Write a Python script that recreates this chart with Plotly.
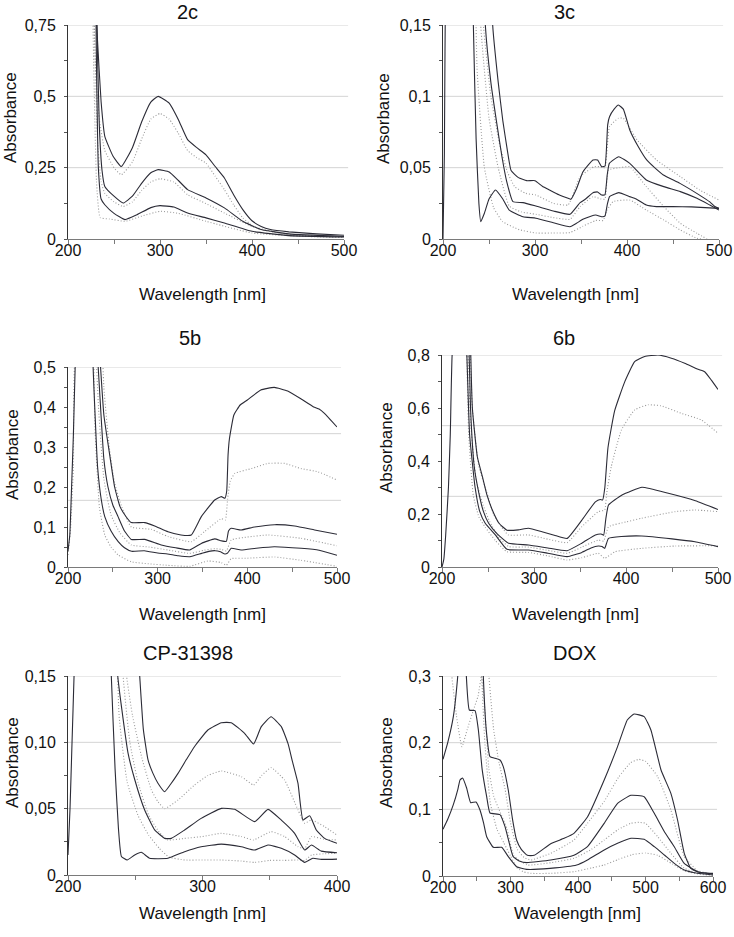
import plotly.graph_objects as go

W, H = 734, 937

# ------------------------------------------------------------------ data
# ---- 2c ----
C2_S1_X = [226, 229, 232, 236, 240, 249, 258, 270, 280, 290, 298, 310, 320, 330, 340, 350, 360, 370, 380, 390, 400, 410, 420, 440, 470, 500]
C2_S1_Y = [1.2, 0.95, 0.70, 0.48, 0.36, 0.29, 0.254, 0.32, 0.41, 0.48, 0.50, 0.476, 0.418, 0.348, 0.32, 0.295, 0.254, 0.214, 0.155, 0.103, 0.064, 0.044, 0.033, 0.025, 0.018, 0.013]
C2_D1_X = [224, 227, 230, 234, 240, 250, 258, 270, 280, 290, 300, 310, 320, 330, 340, 350, 360, 370, 380, 390, 400, 410, 440, 500]
C2_D1_Y = [1.2, 0.9, 0.6, 0.42, 0.31, 0.25, 0.225, 0.27, 0.35, 0.42, 0.44, 0.42, 0.37, 0.31, 0.285, 0.266, 0.22, 0.173, 0.12, 0.074, 0.048, 0.033, 0.015, 0.007]
C2_S2_X = [228, 231, 234, 237, 240, 250, 260, 270, 280, 290, 298, 310, 320, 330, 350, 370, 390, 410, 440, 500]
C2_S2_Y = [1.2, 0.8, 0.4, 0.24, 0.184, 0.15, 0.126, 0.15, 0.195, 0.232, 0.243, 0.235, 0.205, 0.173, 0.144, 0.109, 0.062, 0.033, 0.018, 0.009]
C2_D2_X = [226, 229, 232, 236, 240, 250, 260, 270, 280, 290, 300, 315, 330, 350, 370, 400, 440, 500]
C2_D2_Y = [1.2, 0.7, 0.35, 0.2, 0.16, 0.13, 0.114, 0.13, 0.17, 0.2, 0.211, 0.2, 0.155, 0.124, 0.091, 0.044, 0.015, 0.007]
C2_S3_X = [229, 231, 233, 236, 240, 250, 262, 275, 290, 300, 315, 330, 350, 370, 400, 440, 500]
C2_S3_Y = [1.2, 0.6, 0.25, 0.14, 0.12, 0.09, 0.068, 0.085, 0.11, 0.117, 0.112, 0.091, 0.074, 0.056, 0.027, 0.012, 0.007]
C2_D3_X = [225, 228, 231, 235, 245, 262, 280, 300, 320, 350, 400, 450, 500]
C2_D3_Y = [1.2, 0.6, 0.2, 0.075, 0.07, 0.062, 0.08, 0.097, 0.09, 0.062, 0.021, 0.01, 0.005]

# ---- 3c ----
C3_S1_X = [250, 254, 260, 265, 270, 274, 282, 291, 300, 308, 316, 326, 336, 339, 345, 352, 358, 363, 368, 372.5, 376, 379, 381, 386, 390.6, 396, 403, 412, 421.4, 430, 439.5, 457.6, 475.8, 490, 495, 500]
C3_S1_Y = [0.3, 0.15, 0.11, 0.083, 0.062, 0.048, 0.043, 0.0409, 0.0409, 0.037, 0.0343, 0.031, 0.0285, 0.0278, 0.035, 0.047, 0.052, 0.0554, 0.0554, 0.0507, 0.051, 0.08, 0.0857, 0.091, 0.0939, 0.091, 0.0764, 0.065, 0.0554, 0.05, 0.0449, 0.039, 0.032, 0.026, 0.023, 0.0215]
C3_D1_X = [238, 244, 252, 262, 270, 278, 290, 301, 320, 336, 349, 360, 364, 370, 376, 381, 390.6, 396, 411, 432, 458, 479, 500]
C3_D1_Y = [0.3, 0.15, 0.1, 0.065, 0.047, 0.0366, 0.032, 0.0308, 0.025, 0.0239, 0.0437, 0.049, 0.0507, 0.0507, 0.05, 0.0787, 0.0846, 0.0846, 0.0694, 0.0554, 0.0437, 0.0343, 0.0273]
C3_S2_X = [240, 246, 252, 258, 264, 269, 276, 287, 301, 320, 338, 349, 355, 363, 368, 372.5, 376, 378.5, 380.8, 391, 403, 421, 440, 458, 476, 490, 500]
C3_S2_Y = [0.3, 0.15, 0.11, 0.083, 0.058, 0.041, 0.0262, 0.0255, 0.0231, 0.0196, 0.0173, 0.0255, 0.028, 0.0325, 0.033, 0.0308, 0.031, 0.045, 0.053, 0.0577, 0.053, 0.0414, 0.0367, 0.0332, 0.0285, 0.0238, 0.0203]
C3_D2_X = [236, 241, 250, 260, 272, 285, 301, 320, 338, 349, 363, 372, 376, 380, 392, 403, 421, 440, 458, 476, 487]
C3_D2_Y = [0.3, 0.15, 0.085, 0.05, 0.0231, 0.019, 0.0173, 0.015, 0.0138, 0.0227, 0.0297, 0.028, 0.028, 0.0484, 0.05, 0.0507, 0.0367, 0.0227, 0.011, 0.004, 0.0]
C3_S3_X = [200, 201.5, 203, 215, 230, 233, 236, 239, 241, 245, 250, 257, 265, 272, 287, 301, 320, 338, 345, 352, 360, 366, 372.5, 376, 378.5, 381, 385, 391, 403, 410, 421, 432, 450, 470, 500]
C3_S3_Y = [0, 0.06, 0.2, 0.5, 0.3, 0.15, 0.07, 0.025, 0.0121, 0.018, 0.028, 0.0343, 0.028, 0.0203, 0.0156, 0.0146, 0.0114, 0.0086, 0.011, 0.0138, 0.0158, 0.0168, 0.0156, 0.016, 0.024, 0.0297, 0.031, 0.0325, 0.0297, 0.028, 0.0238, 0.0227, 0.0227, 0.0225, 0.0215]
C3_D3_X = [233, 237, 245, 255, 265, 283, 301, 320, 338, 352, 366, 374, 378, 385, 403, 421, 440, 458, 476, 482]
C3_D3_Y = [0.3, 0.12, 0.05, 0.022, 0.0121, 0.0065, 0.0042, 0.0042, 0.0045, 0.0089, 0.013, 0.013, 0.02, 0.0262, 0.0273, 0.0203, 0.0133, 0.0063, 0.0005, 0.0]

# ---- 5b ----
C5_S1_X = [233, 235, 240, 246.8, 252, 258, 265, 270.6, 285.5, 296.7, 311.5, 326, 337.5, 348.7, 363.6, 371, 375, 377, 378.5, 380, 385, 392, 400, 415, 430, 445, 460, 474, 480, 486, 500]
C5_S1_Y = [0.7, 0.55, 0.38, 0.276, 0.2, 0.151, 0.125, 0.111, 0.111, 0.1025, 0.088, 0.08, 0.08, 0.126, 0.1675, 0.176, 0.172, 0.19, 0.28, 0.32, 0.38, 0.405, 0.4175, 0.4425, 0.449, 0.44, 0.42, 0.4, 0.395, 0.384, 0.35]
C5_D1_X = [236, 240, 246, 252, 260, 270.6, 293, 311.5, 337.5, 352, 371, 375.5, 378, 381, 386, 404.5, 423, 441.6, 460, 478.8, 500]
C5_D1_Y = [0.7, 0.45, 0.3, 0.21, 0.15, 0.1, 0.094, 0.076, 0.0633, 0.088, 0.121, 0.1175, 0.17, 0.215, 0.234, 0.246, 0.259, 0.259, 0.246, 0.238, 0.2175]
C5_S2_X = [231, 235, 240, 244.6, 250, 255.8, 263, 270.6, 285.5, 304, 320, 335.7, 348.7, 363.6, 371, 376.6, 379, 382, 393, 408, 430.5, 452.8, 475, 500]
C5_S2_Y = [0.6, 0.45, 0.27, 0.2, 0.155, 0.126, 0.09, 0.069, 0.069, 0.055, 0.048, 0.0425, 0.059, 0.0702, 0.0655, 0.064, 0.09, 0.0967, 0.0925, 0.1, 0.1058, 0.1025, 0.0925, 0.0817]
C5_D2_X = [230, 234, 240, 248, 258, 270.6, 290, 311.5, 335.7, 352, 363.6, 371, 376.6, 382, 400, 423, 460, 500]
C5_D2_Y = [0.6, 0.4, 0.22, 0.13, 0.085, 0.055, 0.05, 0.0425, 0.034, 0.042, 0.046, 0.044, 0.04, 0.0675, 0.075, 0.08, 0.0717, 0.053]
C5_S3_X = [200, 202, 204, 206, 208, 215, 225, 228, 233, 237, 241, 248, 256, 263, 271, 285, 300, 311, 323, 336, 349, 357, 364, 370, 375, 378, 382, 393, 410, 430, 460, 480, 500]
C5_S3_Y = [0.04, 0.08, 0.2, 0.33, 0.5, 0.9, 0.8, 0.5, 0.25, 0.17, 0.126, 0.09, 0.0633, 0.048, 0.0392, 0.0408, 0.035, 0.0325, 0.028, 0.0258, 0.034, 0.039, 0.0408, 0.038, 0.0325, 0.035, 0.0467, 0.0425, 0.047, 0.0508, 0.0467, 0.042, 0.0292]
C5_D3_X = [200, 203, 206, 209, 226, 230, 235, 241, 248, 256, 270.6, 290, 311.5, 335.7, 356, 371, 376.6, 382, 400, 430.5, 460, 500]
C5_D3_Y = [0.03, 0.1, 0.25, 0.55, 0.6, 0.35, 0.15, 0.08, 0.05, 0.03, 0.013, 0.008, 0.0042, 0.0017, 0.015, 0.011, 0.0042, 0.0208, 0.022, 0.025, 0.0167, 0.0017]

# ---- 6b ----
C6_S1_X = [230, 233, 238.4, 244, 249, 254, 262, 270.6, 283, 294, 308.7, 322, 336, 352, 366.7, 372, 374.6, 377, 380.4, 387.7, 398.6, 409.4, 420.3, 434.8, 449.3, 463.8, 478.3, 485.5, 492.8, 500]
C6_S1_Y = [1.0, 0.6, 0.416, 0.34, 0.27, 0.221, 0.165, 0.139, 0.14, 0.146, 0.133, 0.12, 0.108, 0.177, 0.246, 0.255, 0.253, 0.3, 0.45, 0.59, 0.6987, 0.775, 0.794, 0.8, 0.788, 0.769, 0.746, 0.737, 0.705, 0.67]
C6_D1_X = [229, 233, 240, 248, 256, 265, 272, 294, 315, 336, 352, 370, 376.8, 379, 384, 395, 409.4, 423.9, 438.4, 460, 481.9, 500]
C6_D1_Y = [1.0, 0.6, 0.38, 0.29, 0.2, 0.15, 0.121, 0.121, 0.105, 0.092, 0.152, 0.209, 0.215, 0.278, 0.379, 0.517, 0.593, 0.612, 0.608, 0.58, 0.555, 0.505]
C6_S2_X = [228, 231, 235, 240, 245, 250.7, 260, 272.5, 294, 315, 336, 352, 366.7, 373, 375.7, 378, 381, 395.7, 417.4, 446, 475.4, 500]
C6_S2_Y = [1.0, 0.6, 0.38, 0.28, 0.21, 0.165, 0.125, 0.0893, 0.083, 0.072, 0.0616, 0.09, 0.121, 0.1245, 0.12, 0.18, 0.234, 0.272, 0.301, 0.278, 0.25, 0.217]
C6_D2_X = [227, 231, 237, 244, 252, 262, 272.5, 294, 315, 336, 352, 370, 375.7, 381, 400, 417, 453.6, 475, 500]
C6_D2_Y = [1.0, 0.55, 0.33, 0.24, 0.17, 0.11, 0.077, 0.075, 0.063, 0.0516, 0.075, 0.1016, 0.098, 0.152, 0.17, 0.184, 0.209, 0.215, 0.209]
C6_S3_X = [200, 202, 204, 207, 209, 211, 220, 226, 230, 236, 241, 247, 258, 270.6, 294, 315, 336, 352, 362, 370, 374, 376.8, 381, 395, 417, 450, 475, 500]
C6_S3_Y = [0, 0.03, 0.12, 0.3, 0.5, 0.8, 1.2, 0.9, 0.5, 0.3, 0.21, 0.165, 0.121, 0.0666, 0.064, 0.052, 0.039, 0.055, 0.072, 0.0792, 0.077, 0.0704, 0.108, 0.115, 0.117, 0.106, 0.095, 0.0767]
C6_D3_X = [226, 229, 234, 240, 247, 258, 270.6, 294, 315, 336, 352, 370, 376.8, 388, 417, 453.6, 500]
C6_D3_Y = [1.0, 0.5, 0.27, 0.19, 0.15, 0.1, 0.0577, 0.055, 0.042, 0.0264, 0.035, 0.0516, 0.0327, 0.0577, 0.0704, 0.0792, 0.08]

# ---- CP-31398 ----
C7_S1_X = [250, 253, 256, 259.5, 263, 267, 271.9, 276, 281.8, 288, 294, 304, 314, 321.4, 331.3, 338, 343.7, 351, 358.6, 363.6, 367, 371, 374.7, 379.7, 384.6, 390.8, 400]
C7_S1_Y = [0.2, 0.155, 0.11, 0.0867, 0.077, 0.069, 0.0628, 0.068, 0.0766, 0.087, 0.0967, 0.1093, 0.1148, 0.1148, 0.1068, 0.0987, 0.1118, 0.1193, 0.1118, 0.099, 0.085, 0.069, 0.0415, 0.0447, 0.0339, 0.0276, 0.0239]
C7_D1_X = [240, 243, 248, 255, 262, 267, 271.9, 281.8, 294, 304, 314, 328.9, 338, 344, 351, 361, 371, 376, 381, 390.8, 400]
C7_D1_Y = [0.3, 0.155, 0.12, 0.088, 0.0641, 0.055, 0.05, 0.0565, 0.0678, 0.075, 0.0784, 0.0741, 0.0678, 0.075, 0.0809, 0.0716, 0.049, 0.039, 0.0415, 0.0364, 0.0301]
C7_S2_X = [234, 237, 240, 244.6, 249.6, 257, 264.4, 271.9, 276.8, 286.7, 299, 314, 324, 338.8, 348.7, 358.6, 368.5, 376, 381, 388.3, 400]
C7_S2_Y = [0.3, 0.15, 0.125, 0.092, 0.072, 0.049, 0.034, 0.0276, 0.0276, 0.0339, 0.0427, 0.0502, 0.0495, 0.0402, 0.0495, 0.0414, 0.0314, 0.0188, 0.0226, 0.018, 0.0168]
C7_D2_X = [237, 241, 246, 252, 260, 268, 274, 286.7, 300, 314, 328.9, 338, 351, 361, 371, 376, 381, 390, 400]
C7_D2_Y = [0.3, 0.15, 0.1, 0.07, 0.045, 0.032, 0.0264, 0.0276, 0.029, 0.0314, 0.029, 0.0264, 0.0327, 0.029, 0.0213, 0.02, 0.029, 0.027, 0.0264]
C7_S3_X = [200, 201.5, 203, 204.5, 207, 215, 228, 232.2, 235, 237.5, 239.7, 244, 249.6, 254.5, 260.7, 274.3, 286.7, 299, 314, 328.9, 338.8, 348.7, 358.6, 368.5, 376, 382, 388.3, 400]
C7_S3_Y = [0.015, 0.05, 0.1, 0.15, 0.25, 0.5, 0.3, 0.15, 0.08, 0.035, 0.014, 0.0113, 0.0151, 0.0171, 0.0126, 0.0126, 0.0176, 0.0213, 0.0233, 0.0213, 0.0188, 0.0226, 0.0201, 0.0151, 0.0095, 0.0126, 0.0118, 0.012]
C7_D3_X = [234, 238, 244, 252, 260, 268, 275, 287, 300, 314, 329, 339, 350, 360, 371, 376, 381, 390, 400]
C7_D3_Y = [0.3, 0.12, 0.07, 0.045, 0.03, 0.02, 0.0135, 0.0113, 0.0113, 0.0113, 0.0105, 0.0095, 0.011, 0.011, 0.0113, 0.011, 0.015, 0.016, 0.0163]

# ---- DOX ----
C8_S1_X = [255, 259.7, 264, 269.6, 277, 284.4, 289.3, 296.7, 303, 309, 316, 325, 335, 359.6, 379.4, 394, 414, 438.8, 458.6, 473, 483, 498, 508, 523, 537.6, 547.5, 557.4, 567, 577, 594.6, 600]
C8_S1_Y = [0.45, 0.3, 0.22, 0.179, 0.1765, 0.174, 0.164, 0.129, 0.085, 0.054, 0.04, 0.031, 0.031, 0.0485, 0.0565, 0.064, 0.0885, 0.144, 0.194, 0.234, 0.243, 0.239, 0.219, 0.159, 0.124, 0.084, 0.034, 0.0115, 0.0065, 0.004, 0.004]
C8_D1_X = [262, 268, 275, 283, 292, 300, 310, 320, 330, 359.6, 394, 414, 438.8, 460, 478, 490, 500, 518, 537.6, 557, 577, 600]
C8_D1_Y = [0.4, 0.3, 0.22, 0.17, 0.13, 0.08, 0.04, 0.028, 0.024, 0.034, 0.054, 0.079, 0.112, 0.148, 0.17, 0.175, 0.172, 0.149, 0.099, 0.03, 0.008, 0.003]
C8_S2_X = [200, 207, 215.3, 222.7, 228, 234, 239, 247.4, 252.4, 258, 264.7, 269.6, 284.4, 291.9, 298, 304, 314, 323.9, 359.6, 394, 414, 438.8, 458.6, 478.5, 498, 513, 528, 542.6, 557.4, 577, 600]
C8_S2_Y = [0.175, 0.2, 0.239, 0.31, 0.4, 0.31, 0.249, 0.248, 0.219, 0.16, 0.119, 0.0945, 0.092, 0.074, 0.05, 0.029, 0.022, 0.02, 0.024, 0.031, 0.044, 0.079, 0.109, 0.121, 0.119, 0.094, 0.0665, 0.044, 0.0189, 0.0065, 0.003]
C8_D2_X = [200, 206, 213, 220, 228, 236, 245, 252, 257, 262, 268, 275, 285, 295, 305, 325, 360, 394, 420, 438.8, 460, 478, 490, 500, 518, 537.6, 557, 577, 600]
C8_D2_Y = [0.45, 0.38, 0.3, 0.24, 0.194, 0.22, 0.249, 0.27, 0.3, 0.25, 0.16, 0.12, 0.095, 0.07, 0.03, 0.0165, 0.02, 0.0265, 0.04, 0.054, 0.07, 0.079, 0.0805, 0.079, 0.059, 0.034, 0.012, 0.004, 0.002]
C8_S3_X = [200, 207, 215.3, 222, 225.2, 229, 235, 241, 248.9, 254.8, 260, 264.7, 274.6, 286.9, 296.8, 309, 323.9, 358.5, 398, 414, 438.8, 458.6, 478.5, 498, 513, 528, 542.6, 557.4, 577, 600]
C8_S3_Y = [0.07, 0.085, 0.107, 0.13, 0.144, 0.147, 0.132, 0.11, 0.111, 0.099, 0.08, 0.059, 0.043, 0.043, 0.029, 0.014, 0.0099, 0.0114, 0.0164, 0.024, 0.039, 0.049, 0.0565, 0.055, 0.044, 0.0315, 0.019, 0.009, 0.004, 0.0015]
C8_D3_X = [255, 262, 270, 280, 290, 300, 310, 320, 330, 360, 394, 420, 438.8, 460, 480, 500, 518, 540, 557, 577, 600]
C8_D3_Y = [0.35, 0.2, 0.11, 0.07, 0.05, 0.03, 0.012, 0.006, 0.004, 0.004, 0.0065, 0.012, 0.0165, 0.025, 0.032, 0.0345, 0.031, 0.018, 0.008, 0.003, 0.001]

# ---- labels / ticks ----
PANEL_TITLES = ["2c", "3c", "5b", "6b", "CP-31398", "DOX"]
X_LABEL = "Wavelength [nm]"
Y_LABEL = "Absorbance"
X_RANGES = [[200, 500], [200, 500], [200, 500], [200, 500], [200, 400], [200, 600]]
X_TICKS = [[200, 300, 400, 500], [200, 300, 400, 500], [200, 300, 400, 500],
           [200, 300, 400, 500], [200, 300, 400], [200, 300, 400, 500, 600]]
Y_MAX = [0.75, 0.15, 0.5, 0.8, 0.15, 0.3]
Y_TICKVALS = [[0, 0.25, 0.5, 0.75], [0, 0.05, 0.1, 0.15], [0, 0.1, 0.2, 0.3, 0.4, 0.5],
              [0, 0.2, 0.4, 0.6, 0.8], [0, 0.05, 0.10, 0.15], [0, 0.1, 0.2, 0.3]]
Y_TICKTEXT = [["0", "0,25", "0,5", "0,75"], ["0", "0,05", "0,1", "0,15"],
              ["0", "0,1", "0,2", "0,3", "0,4", "0,5"], ["0", "0,2", "0,4", "0,6", "0,8"],
              ["0", "0,05", "0,10", "0,15"], ["0", "0,1", "0,2", "0,3"]]

PANEL_CURVES = [
    [(C2_D1_X, C2_D1_Y, "dot"), (C2_D2_X, C2_D2_Y, "dot"), (C2_D3_X, C2_D3_Y, "dot"),
     (C2_S1_X, C2_S1_Y, "solid"), (C2_S2_X, C2_S2_Y, "solid"), (C2_S3_X, C2_S3_Y, "solid")],
    [(C3_D1_X, C3_D1_Y, "dot"), (C3_D2_X, C3_D2_Y, "dot"), (C3_D3_X, C3_D3_Y, "dot"),
     (C3_S1_X, C3_S1_Y, "solid"), (C3_S2_X, C3_S2_Y, "solid"), (C3_S3_X, C3_S3_Y, "solid")],
    [(C5_D1_X, C5_D1_Y, "dot"), (C5_D2_X, C5_D2_Y, "dot"), (C5_D3_X, C5_D3_Y, "dot"),
     (C5_S1_X, C5_S1_Y, "solid"), (C5_S2_X, C5_S2_Y, "solid"), (C5_S3_X, C5_S3_Y, "solid")],
    [(C6_D1_X, C6_D1_Y, "dot"), (C6_D2_X, C6_D2_Y, "dot"), (C6_D3_X, C6_D3_Y, "dot"),
     (C6_S1_X, C6_S1_Y, "solid"), (C6_S2_X, C6_S2_Y, "solid"), (C6_S3_X, C6_S3_Y, "solid")],
    [(C7_D1_X, C7_D1_Y, "dot"), (C7_D2_X, C7_D2_Y, "dot"), (C7_D3_X, C7_D3_Y, "dot"),
     (C7_S1_X, C7_S1_Y, "solid"), (C7_S2_X, C7_S2_Y, "solid"), (C7_S3_X, C7_S3_Y, "solid")],
    [(C8_D1_X, C8_D1_Y, "dot"), (C8_D2_X, C8_D2_Y, "dot"), (C8_D3_X, C8_D3_Y, "dot"),
     (C8_S1_X, C8_S1_Y, "solid"), (C8_S2_X, C8_S2_Y, "solid"), (C8_S3_X, C8_S3_Y, "solid")],
]

# ------------------------------------------------------------------ layout geometry (pixels)
BOXES = [(68, 344, 25, 239), (443, 719, 25, 239),
         (68, 337, 367, 567), (442, 718, 355, 567),
         (68, 337, 676, 875), (443, 713, 676, 876)]
TITLE_POS = [(187, 12), (564, 12), (190, 338), (564, 338), (188, 653), (574, 653)]
XLAB_POS = [(203, 295), (575, 295), (203, 614), (575, 614), (203, 913), (577, 913)]
YLAB_POS = [(11, 118), (384, 118), (12, 455), (386, 448), (12, 763), (386, 763)]

FONT = "Liberation Sans, Arial, sans-serif"
SOLID_COLOR = "#2b2b36"
DOT_COLOR = "#9a9a9a"


def px_x(x):
    return x / W


def px_y(y):
    return 1 - y / H


fig = go.Figure()
layout = dict(
    width=W, height=H, autosize=False,
    margin=dict(l=0, r=0, t=0, b=0, pad=0, autoexpand=False),
    paper_bgcolor="white", plot_bgcolor="white", showlegend=False,
    font=dict(family=FONT, color="#111111"),
    annotations=[], shapes=[],
)

for i in range(6):
    n = "" if i == 0 else str(i + 1)
    xa, ya = "x" + n, "y" + n
    x0, x1, y0, y1 = BOXES[i]
    ymax = Y_MAX[i]
    major = Y_TICKVALS[i][1] - Y_TICKVALS[i][0]
    layout["xaxis" + n] = dict(
        domain=[px_x(x0), px_x(x1)], anchor=ya, range=X_RANGES[i], automargin=False,
        showline=True, linecolor="#7a7a7a", linewidth=1, mirror=False,
        showgrid=False, zeroline=False,
        tickmode="array", tickvals=X_TICKS[i], ticks="outside", ticklen=4,
        tickcolor="#7a7a7a", ticklabelposition="outside", ticklabelstandoff=-7,
        tickfont=dict(size=16, family=FONT, color="#111111"),
        minor=dict(ticks="outside", ticklen=4, dtick=50, tick0=0, tickcolor="#7a7a7a"),
        fixedrange=True,
    )
    layout["yaxis" + n] = dict(
        domain=[px_y(y1), px_y(y0)], anchor=xa, range=[0, ymax], automargin=False,
        showline=True, linecolor="#333333", linewidth=1,
        showgrid=False, zeroline=False,
        tickmode="array", tickvals=Y_TICKVALS[i], ticktext=Y_TICKTEXT[i],
        ticks="outside", ticklen=3, tickcolor="#555555",
        ticklabelstandoff=5,
        tickfont=dict(size=16, family=FONT, color="#111111"),
        minor=dict(ticks="outside", ticklen=3, dtick=major / 2, tick0=0, tickcolor="#555555"),
        fixedrange=True,
    )
    for k in (1, 2, 3):
        gy = ymax * k / 3
        layout["shapes"].append(dict(
            type="line", xref=xa + " domain", yref=ya, x0=0, x1=1.015, y0=gy, y1=gy,
            line=dict(color="#d4d4d4", width=1), layer="below"))
    for (cx, cy, style) in PANEL_CURVES[i]:
        solid = style == "solid"
        fig.add_trace(go.Scatter(
            x=cx, y=cy, mode="lines", xaxis=xa, yaxis=ya, hoverinfo="skip",
            line=dict(color=SOLID_COLOR if solid else DOT_COLOR,
                      width=1.1,
                      dash="solid" if solid else "1px,2px",
                      shape="spline", smoothing=0.4)))
    tx, ty = TITLE_POS[i]
    layout["annotations"].append(dict(
        text=PANEL_TITLES[i], x=px_x(tx), y=px_y(ty), xref="paper", yref="paper",
        xanchor="center", yanchor="middle", showarrow=False,
        font=dict(size=20, family=FONT, color="#111111")))
    lx, ly = XLAB_POS[i]
    layout["annotations"].append(dict(
        text=X_LABEL, x=px_x(lx), y=px_y(ly), xref="paper", yref="paper",
        xanchor="center", yanchor="middle", showarrow=False,
        font=dict(size=17, family=FONT, color="#111111")))
    vx, vy = YLAB_POS[i]
    layout["annotations"].append(dict(
        text=Y_LABEL, x=px_x(vx), y=px_y(vy), xref="paper", yref="paper",
        xanchor="center", yanchor="middle", showarrow=False, textangle=-90,
        font=dict(size=17, family=FONT, color="#111111")))

fig.update_layout(**layout)
# remove the browser's default 8px page margin so the figure fills the window exactly
fig.write_html("out.html",
               config={"displayModeBar": False, "staticPlot": True},
               post_script="document.body.style.margin='0px';document.body.style.overflow='hidden';")
